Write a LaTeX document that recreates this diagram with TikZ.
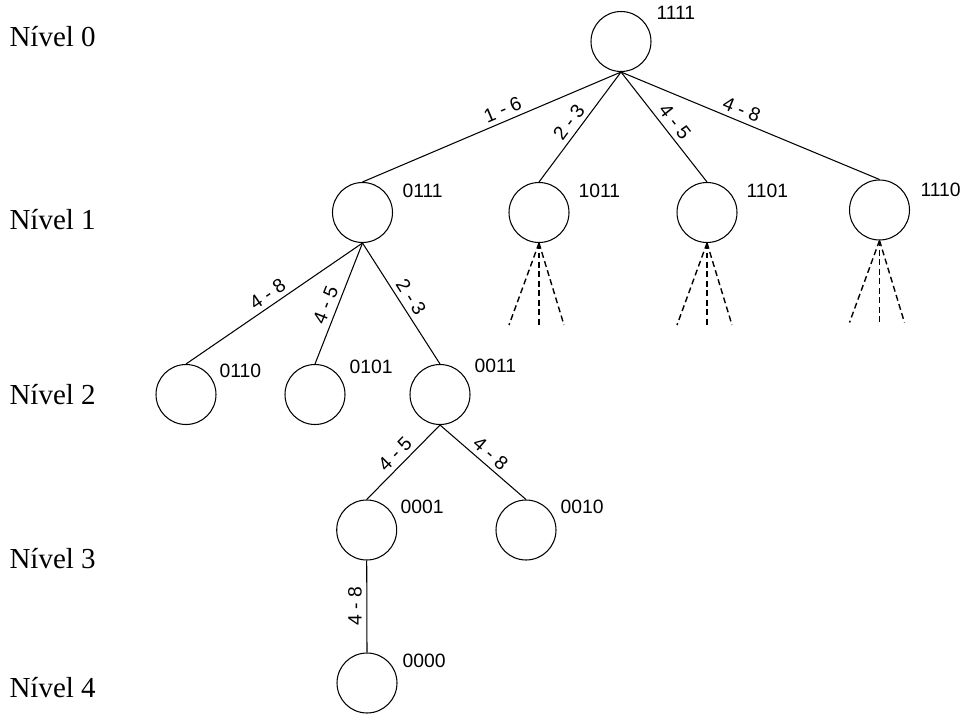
\documentclass[tikz,border=0pt]{standalone}
\usepackage{fontspec}
\setmainfont{Liberation Serif}
\newfontfamily\rotfont{Liberation Sans}
\usepackage{tikz}

\begin{document}
\begin{tikzpicture}[x=0.02cm,y=-0.02cm,
  nodo/.style={circle,draw,line width=0.6pt,minimum size=1.2cm,inner sep=0pt},
  rotulo/.style={anchor=south west,inner sep=0pt,font=\rotfont\fontsize{11}{13}\selectfont},
  custo/.style={above,sloped,inner sep=2.5pt,font=\rotfont\fontsize{11}{13}\selectfont},
  custov/.style={anchor=south,rotate=90,inner sep=2.5pt,font=\rotfont\fontsize{11}{13}\selectfont},
  nivel/.style={anchor=base west,inner sep=0pt,font=\fontsize{16.5}{19}\selectfont},
  ramo/.style={line width=0.8pt,dash pattern=on 3.4pt off 2pt},
  every path/.style={line width=0.6pt}]
  \useasboundingbox (0,0) rectangle (963,713);
  \node[nivel] (v0) at (9,47) {Nível 0}; \node[nivel] (v1) at (9,229) {Nível 1};
  \node[nivel] (v2) at (9,404) {Nível 2}; \node[nivel] (v3) at (9,568) {Nível 3};
  \node[nivel] (v4) at (9,697) {Nível 4};
  \node[nodo] (n1111) at (621,41.5) {}; \node[rotulo] (t1111) at (656,20) {1111};
  \node[nodo] (n0111) at (362.5,212.5) {}; \node[rotulo] (t0111) at (402,198) {0111};
  \node[nodo] (n1011) at (539,212.5) {}; \node[rotulo] (t1011) at (578,198) {1011};
  \node[nodo] (n1101) at (707,212.5) {}; \node[rotulo] (t1101) at (746,198) {1101};
  \node[nodo] (n1110) at (879.5,210) {}; \node[rotulo] (t1110) at (920,197) {1110};
  \node[nodo] (n0110) at (186,394.5) {}; \node[rotulo] (t0110) at (219,378) {0110};
  \node[nodo] (n0101) at (315,394.5) {}; \node[rotulo] (t0101) at (349,374) {0101};
  \node[nodo] (n0011) at (440,394.5) {}; \node[rotulo] (t0011) at (474,373) {0011};
  \node[nodo] (n0001) at (366.7,530) {}; \node[rotulo] (t0001) at (400,514) {0001};
  \node[nodo] (n0010) at (526,530) {}; \node[rotulo] (t0010) at (560,514) {0010};
  \node[nodo] (n0000) at (367,683) {}; \node[rotulo] (t0000) at (402,668) {0000};
  \draw (n1111.south) -- node[custo,pos=0.44] {1 - 6} (n0111.north);
  \draw (n1111.south) -- node[custo,pos=0.52] {2 - 3} (n1011.north);
  \draw (n1111.south) -- node[custo,pos=0.52] {4 - 5} (n1101.north);
  \draw (n1111.south) -- node[custo,pos=0.45] {4 - 8} (n1110.north);
  \draw (n0111.south) -- node[custo,pos=0.5] {4 - 8} (n0110.north);
  \draw (n0111.south) -- node[custo,pos=0.55] {4 - 5} (n0101.north);
  \draw (n0111.south) -- node[custo,pos=0.5] {2 - 3} (n0011.north);
  \draw (n0011.south) -- node[custo,pos=0.5] {4 - 5} (n0001.north);
  \draw (n0011.south) -- node[custo,pos=0.5] {4 - 8} (n0010.north);
  \draw (n0001.south) -- node[custov,pos=0.5] {4 - 8} (n0000.north);
  \foreach \n in {1011,1101,1110}
    \foreach \dx/\k in {-30/a,0/b,25/c} {
      \path (n\n.south) ++(\dx,82) coordinate (d\n\k);
      \draw[ramo] (n\n.south) -- (d\n\k);
    }
\end{tikzpicture}
\end{document}
